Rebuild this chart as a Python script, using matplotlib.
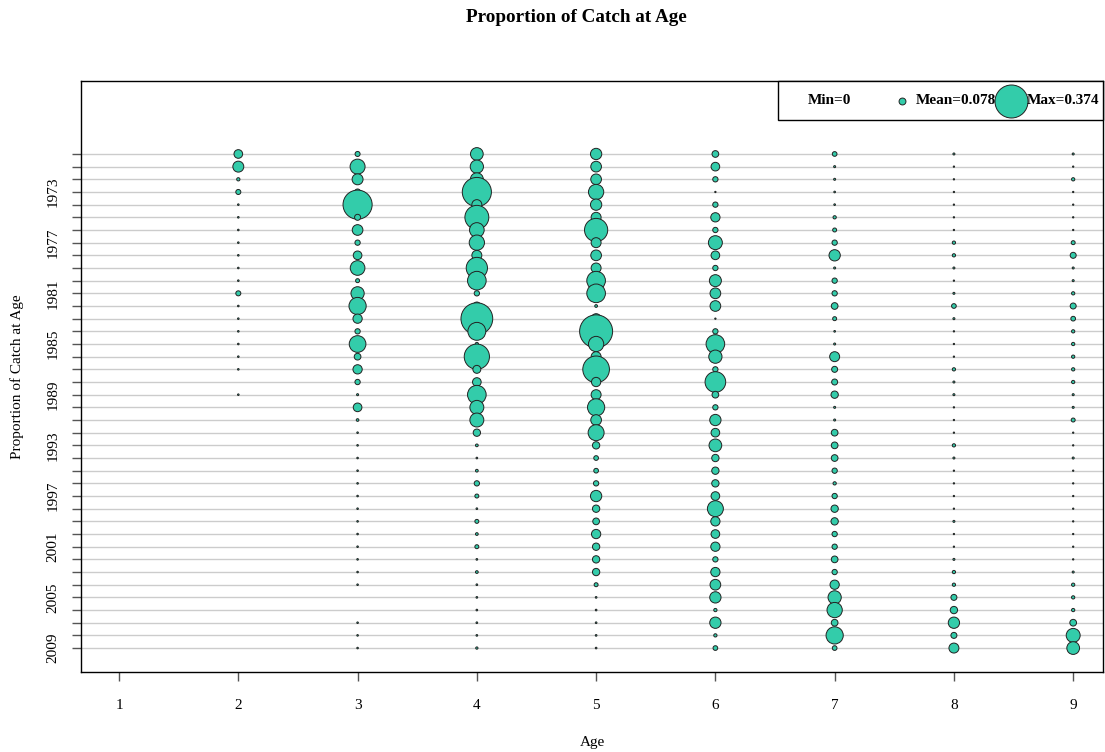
import matplotlib
matplotlib.use("Agg")
import matplotlib.pyplot as plt
import matplotlib.transforms as mtransforms
import numpy as np

# ---------------- data ----------------
years = list(range(1970, 2010))
ages = [1, 2, 3, 4, 5, 6, 7, 8, 9]

age1 = [0.0] * 40
age2 = [0.098, 0.124, 0.037, 0.057] + [0.018] * 7 + [0.057] + [0.018] * 6 + [0.0, 0.018] + [0.0] * 20
age3 = [0.057, 0.170, 0.124, 0.068, 0.330, 0.068, 0.121, 0.060, 0.098, 0.166,
        0.045, 0.150, 0.195, 0.105, 0.060, 0.189, 0.076, 0.105, 0.060, 0.023,
        0.098, 0.030] + [0.018] * 13 + [0.0, 0.0] + [0.018] * 3
age4 = [0.144, 0.150, 0.147, 0.330, 0.113, 0.271, 0.166, 0.173, 0.113, 0.241,
        0.211, 0.060, 0.090, 0.360, 0.203, 0.037, 0.286, 0.090, 0.098, 0.211,
        0.158, 0.158, 0.083, 0.031, 0.019, 0.031, 0.060, 0.045, 0.019, 0.045,
        0.031, 0.045, 0.019, 0.031, 0.019, 0.019, 0.019, 0.019, 0.019, 0.026]
age5 = [0.128, 0.121, 0.121, 0.173, 0.128, 0.113, 0.263, 0.113, 0.121, 0.113,
        0.211, 0.211, 0.031, 0.113, 0.374, 0.173, 0.113, 0.302, 0.105, 0.113,
        0.195, 0.121, 0.181, 0.083, 0.053, 0.053, 0.060, 0.128, 0.083, 0.076,
        0.105, 0.083, 0.083, 0.083, 0.045, 0.019, 0.019, 0.019, 0.019, 0.019]
age6 = [0.076, 0.098, 0.060, 0.015, 0.060, 0.105, 0.060, 0.158, 0.098, 0.060,
        0.136, 0.121, 0.121, 0.015, 0.060, 0.211, 0.150, 0.060, 0.234, 0.076,
        0.060, 0.128, 0.098, 0.144, 0.083, 0.083, 0.083, 0.098, 0.181, 0.105,
        0.098, 0.105, 0.060, 0.105, 0.121, 0.128, 0.037, 0.128, 0.037, 0.053]
age7 = [0.053, 0.023, 0.023, 0.019, 0.019, 0.037, 0.045, 0.060, 0.128, 0.023,
        0.060, 0.060, 0.076, 0.045, 0.019, 0.023, 0.113, 0.068, 0.068, 0.083,
        0.023, 0.023, 0.076, 0.076, 0.076, 0.060, 0.037, 0.060, 0.083, 0.083,
        0.060, 0.060, 0.076, 0.060, 0.105, 0.150, 0.173, 0.076, 0.195, 0.053]
age8 = [0.023, 0.015, 0.015, 0.015, 0.015, 0.015, 0.015, 0.037, 0.037, 0.023,
        0.015, 0.023, 0.053, 0.023, 0.015, 0.015, 0.015, 0.037, 0.023, 0.023,
        0.015, 0.015, 0.015, 0.037, 0.023, 0.015, 0.015, 0.015, 0.015, 0.023,
        0.015, 0.015, 0.023, 0.037, 0.037, 0.068, 0.083, 0.128, 0.068, 0.113]
age9 = [0.023, 0.015, 0.037, 0.015, 0.015, 0.015, 0.015, 0.045, 0.068, 0.023,
        0.023, 0.037, 0.068, 0.053, 0.037, 0.037, 0.037, 0.037, 0.037, 0.023,
        0.023, 0.045, 0.015, 0.015, 0.023, 0.015, 0.015, 0.015, 0.015, 0.015,
        0.015, 0.015, 0.015, 0.023, 0.037, 0.037, 0.037, 0.076, 0.158, 0.144]

ytick_labels = [1973, 1977, 1981, 1985, 1989, 1993, 1997, 2001, 2005, 2009]
legend_min, legend_mean, legend_max = 0, 0.078, 0.374

# ---------------- style ----------------
FILL = "#33CCAA"
SERIF = ["Liberation Serif", "DejaVu Serif"]
plt.rcParams["font.family"] = SERIF
DPI = 100
MAX_D_PX = 33.0


def sizes(v):
    d_pt = MAX_D_PX * np.asarray(v, dtype=float) / legend_max * 72.0 / DPI
    return d_pt ** 2


fig = plt.figure(figsize=(11.05, 7.52), dpi=DPI)
ax = fig.add_axes([81 / 1105, 80 / 752, (1103 - 81) / 1105, (672 - 81) / 752])

ax.set_xlim(0.681, 9.25)
ax.set_ylim(2010.89, 1964.24)

# grid lines at every year
for y in years:
    ax.axhline(y, color="#cccccc", lw=1.0, zorder=1)

matrix = [age1, age2, age3, age4, age5, age6, age7, age8, age9]
xs, ys, vs = [], [], []
for a, col in zip(ages, matrix):
    for y, v in zip(years, col):
        if v > 0:
            xs.append(a)
            ys.append(y)
            vs.append(v)
ax.scatter(xs, ys, s=sizes(vs), facecolor=FILL, edgecolor="#222222",
           linewidths=0.7, zorder=3)

# axes styling
for sp in ax.spines.values():
    sp.set_color("black")
    sp.set_linewidth(1.0)
ax.set_xticks(ages)
ax.set_xticklabels([str(a) for a in ages])
ax.set_yticks(years)
ax.set_yticklabels([str(y) if y in ytick_labels else "" for y in years],
                   rotation=90, va="center")
ax.tick_params(axis="both", direction="out", length=6.5, width=1.0,
               color="#555555", labelsize=11)
ax.tick_params(axis="x", pad=13)
ax.tick_params(axis="y", pad=9)

ax.set_xlabel("Age", fontsize=11, labelpad=17)
ax.set_ylabel("Proportion of Catch at Age", fontsize=11, labelpad=16)
fig.text(576 / 1105, 1 - 17 / 752, "Proportion of Catch at Age",
         ha="center", va="center", fontsize=13.8, fontweight="bold")

# legend box
bx0 = (778 - 81) / (1103 - 81)
by0 = (672 - 120) / (672 - 81)
ax.add_patch(plt.Rectangle((bx0, by0), 1 - bx0, 1 - by0, transform=ax.transAxes,
                           facecolor="white", edgecolor="black", lw=1.0,
                           zorder=5, clip_on=False))
trans = mtransforms.blended_transform_factory(ax.transData, ax.transAxes)
ly = (672 - 101) / (672 - 81)
ax.text(6.778, ly, f"Min={legend_min}", transform=trans, ha="left", va="center",
        fontsize=11, fontweight="bold", zorder=6)
ax.scatter([7.566], [ly], s=sizes([legend_mean]), transform=trans,
           facecolor=FILL, edgecolor="#222222", linewidths=0.7, zorder=6,
           clip_on=False)
ax.text(7.683, ly, f"Mean={legend_mean}", transform=trans, ha="left",
        va="center", fontsize=11, fontweight="bold", zorder=6)
ax.scatter([8.48], [ly], s=sizes([legend_max]), transform=trans,
           facecolor=FILL, edgecolor="#222222", linewidths=0.7, zorder=7,
           clip_on=False)
ax.text(8.614, ly, f"Max={legend_max}", transform=trans, ha="left",
        va="center", fontsize=11, fontweight="bold", zorder=8)

fig.savefig("out.png", dpi=DPI)
